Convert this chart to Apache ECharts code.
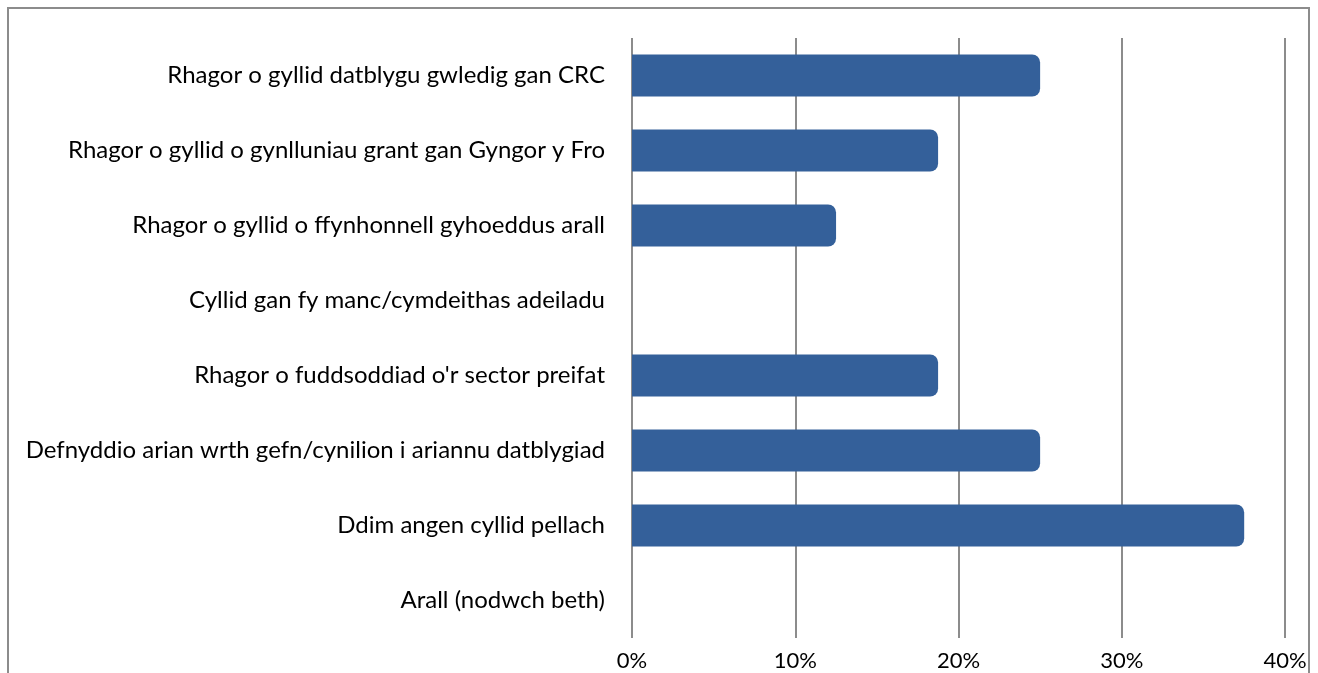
<!DOCTYPE html>
<html lang="cy">
<head>
  <meta charset="UTF-8">
  <title>chart</title>
  <style>
    html, body, #chart {
      margin: 0;
      padding: 0;
      width: 100%;
      height: 100%;
      background: #fff;
    }
  </style>
</head>
<body>
<div id="chart"></div>

<script src="https://cdn.jsdelivr.net/npm/echarts@6/dist/echarts.min.js"></script>
<script>
  var categories = [
    'Rhagor o gyllid datblygu gwledig gan CRC',
    'Rhagor o gyllid o gynlluniau grant gan Gyngor y Fro',
    'Rhagor o gyllid o ffynhonnell gyhoeddus arall',
    'Cyllid gan fy manc/cymdeithas adeiladu',
    "Rhagor o fuddsoddiad o'r sector preifat",
    'Defnyddio arian wrth gefn/cynilion i ariannu datblygiad',
    'Ddim angen cyllid pellach',
    'Arall (nodwch beth)'
  ];
  var values = [0.25, 0.1875, 0.125, 0, 0.1875, 0.25, 0.375, 0];

  var chart = echarts.init(document.getElementById('chart'));

  chart.setOption({
    animation: false,
    textStyle: { fontFamily: 'Lato, Carlito, sans-serif' },
    graphic: [{
      type: 'rect',
      shape: { x: 8, y: 8, width: 1301, height: 700 },
      style: { fill: 'none', stroke: '#8c8c8c', lineWidth: 2 },
      silent: true
    }],
    grid: { left: 632, right: 33, top: 38, bottom: 35 },
    xAxis: {
      type: 'value',
      min: 0,
      max: 0.4,
      interval: 0.1,
      axisLine: { show: false },
      axisTick: { show: false },
      axisLabel: {
        color: '#000',
        fontSize: 22,
        margin: 12,
        formatter: function (v) { return Math.round(v * 100) + '%'; }
      },
      splitLine: { lineStyle: { color: '#8c8c8c', width: 2 } }
    },
    yAxis: {
      type: 'category',
      inverse: true,
      data: categories,
      axisLine: { show: false },
      axisTick: { show: false },
      axisLabel: { color: '#000', fontSize: 24, margin: 27 }
    },
    series: [{
      type: 'bar',
      data: values,
      barWidth: 42,
      itemStyle: { color: '#34609a', borderRadius: [0, 8, 8, 0] }
    }]
  });
</script>
</body>
</html>
